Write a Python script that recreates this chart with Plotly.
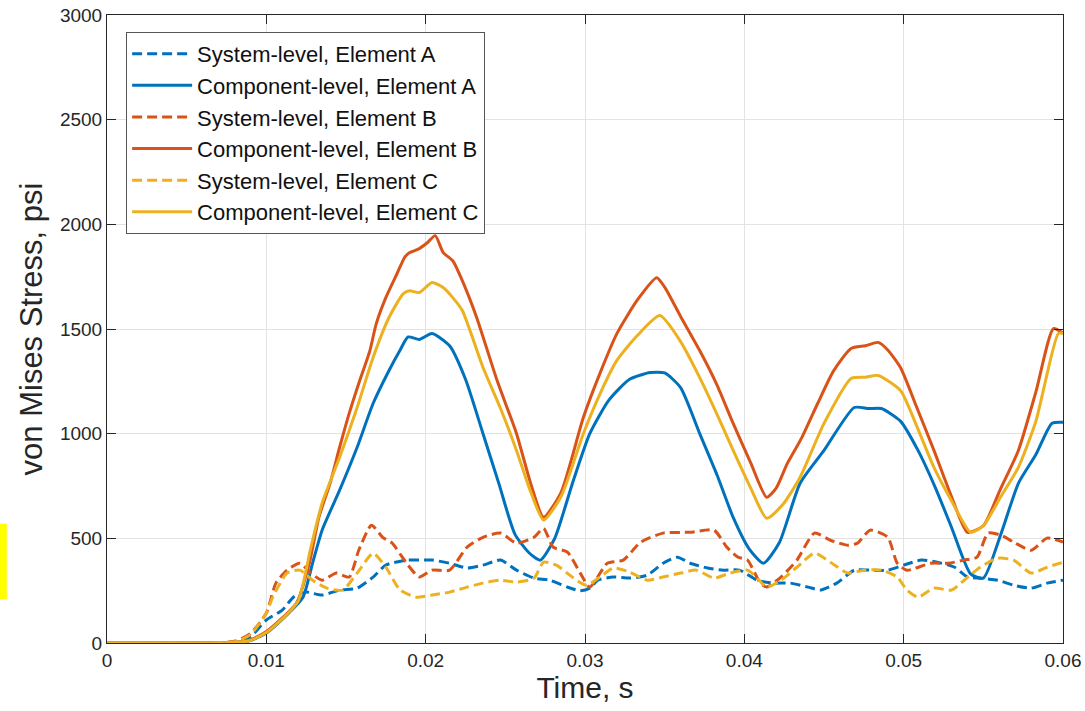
import plotly.graph_objects as go

# ---------------- data ----------------
t_comp_a = [0, 0.005, 0.008, 0.009, 0.010, 0.0114, 0.0123, 0.0129, 0.0135, 0.0146, 0.0157,
            0.0167, 0.0177, 0.0184, 0.0189, 0.0196, 0.0204, 0.0215, 0.0225, 0.0236, 0.0246,
            0.0256, 0.0265, 0.0272, 0.0281, 0.0292, 0.0303, 0.0315, 0.0328, 0.0341, 0.0350,
            0.0360, 0.0372, 0.0383, 0.0393, 0.0403, 0.0412, 0.0422, 0.0435, 0.0450, 0.0469,
            0.0478, 0.0486, 0.0498, 0.0509, 0.0520, 0.0530, 0.0542, 0.0550, 0.0561, 0.0572,
            0.0583, 0.0593, 0.0600]
v_comp_a = [0, 0, 2, 12, 48, 143, 219, 381, 539, 730, 935,
            1144, 1302, 1400, 1462, 1450, 1478, 1420, 1260, 1000, 760,
            520, 430, 396, 500, 760, 1000, 1160, 1260, 1292, 1290,
            1220, 1000, 800, 600, 450, 381, 480, 763, 920, 1125,
            1120, 1120, 1060, 920, 740, 553, 330, 310, 520, 763,
            900, 1049, 1054]

t_comp_b = [0, 0.005, 0.008, 0.009, 0.010, 0.011, 0.0119, 0.0127, 0.0133, 0.0140, 0.0146,
            0.0152, 0.0158, 0.0165, 0.0169, 0.0175, 0.0182, 0.0187, 0.0190, 0.0196, 0.0201,
            0.0206, 0.0211, 0.0217, 0.0223, 0.0232, 0.0245, 0.0257, 0.0266, 0.0274, 0.0285,
            0.0299, 0.0310, 0.0320, 0.0333, 0.0345, 0.0350, 0.0360, 0.0372, 0.0383, 0.0393,
            0.0404, 0.0414, 0.0420, 0.0427, 0.0436, 0.0446, 0.0456, 0.0467, 0.0476, 0.0484,
            0.0490, 0.0498, 0.0508, 0.0519, 0.0530, 0.0540, 0.0550, 0.0561, 0.0572, 0.0583,
            0.0594, 0.0600]
v_comp_b = [0, 0, 3, 15, 55, 120, 191, 381, 601, 763, 935,
            1097, 1240, 1397, 1526, 1650, 1764, 1845, 1865, 1884, 1912,
            1946, 1865, 1826, 1731, 1555, 1250, 1001, 760, 601, 720,
            1078, 1300, 1478, 1640, 1745, 1700, 1560, 1397, 1230, 1049,
            860, 696, 740, 858, 980, 1144, 1300, 1407, 1420, 1436,
            1400, 1316, 1130, 920, 700, 529, 560, 740, 920, 1200,
            1502, 1480]

t_comp_c = [0, 0.005, 0.008, 0.009, 0.010, 0.011, 0.0120, 0.0128, 0.0135, 0.0146, 0.0157,
            0.0167, 0.0177, 0.0186, 0.0190, 0.0196, 0.0204, 0.0211, 0.0217, 0.0223, 0.0236,
            0.0247, 0.0257, 0.0266, 0.0274, 0.0285, 0.0299, 0.0310, 0.0320, 0.0333, 0.0347,
            0.0360, 0.0372, 0.0383, 0.0393, 0.0404, 0.0414, 0.0424, 0.0435, 0.0450, 0.0467,
            0.0476, 0.0484, 0.0498, 0.0508, 0.0519, 0.0530, 0.0542, 0.0550, 0.0561, 0.0572,
            0.0583, 0.0597, 0.0600]
v_comp_c = [0, 0, 2, 12, 50, 115, 200, 458, 668, 887, 1125,
            1364, 1555, 1669, 1683, 1674, 1722, 1698, 1650, 1588, 1316,
            1120, 920, 720, 587, 700, 1001, 1200, 1350, 1470, 1564,
            1440, 1268, 1090, 920, 740, 596, 660, 792, 1049, 1264,
            1270, 1278, 1206, 1040, 839, 680, 529, 560, 700, 839,
            1060, 1478, 1480]

t_sys_a = [0, 0.005, 0.008, 0.009, 0.010, 0.011, 0.0117, 0.0125, 0.0135, 0.0146, 0.0157,
           0.0167, 0.0175, 0.0188, 0.0194, 0.0204, 0.0215, 0.0226, 0.0236, 0.0247, 0.0257,
           0.0268, 0.0278, 0.0289, 0.0297, 0.0303, 0.0308, 0.0318, 0.0328, 0.0339, 0.0349,
           0.0358, 0.0366, 0.0377, 0.0387, 0.0397, 0.0408, 0.0418, 0.0429, 0.0440, 0.0448,
           0.0458, 0.0469, 0.0479, 0.0490, 0.0500, 0.0511, 0.0521, 0.0532, 0.0540, 0.0548,
           0.0559, 0.0569, 0.0580, 0.0590, 0.0600]
v_sys_a = [0, 0, 5, 30, 110, 157, 219, 243, 229, 253, 262,
           315, 372, 396, 396, 396, 381, 358, 372, 396, 348,
           310, 300, 267, 250, 262, 300, 315, 310, 324, 381,
           410, 381, 358, 348, 348, 300, 286, 286, 267, 253,
           286, 348, 348, 348, 372, 396, 386, 362, 315, 310,
           300, 276, 262, 286, 300]

t_sys_b = [0, 0.005, 0.008, 0.009, 0.010, 0.0106, 0.0113, 0.0121, 0.0128, 0.0135, 0.0144,
           0.0152, 0.0158, 0.0166, 0.0173, 0.0179, 0.0188, 0.0196, 0.0204, 0.0215, 0.0226,
           0.0236, 0.0247, 0.0257, 0.0268, 0.0274, 0.0280, 0.0289, 0.0297, 0.0303, 0.0314,
           0.0324, 0.0335, 0.0349, 0.0366, 0.0381, 0.0389, 0.0396, 0.0402, 0.0410, 0.0414,
           0.0423, 0.0433, 0.0444, 0.0454, 0.0465, 0.0471, 0.0479, 0.0490, 0.0496, 0.0502,
           0.0517, 0.0528, 0.0538, 0.0546, 0.0553, 0.0561, 0.0569, 0.0580, 0.0590, 0.0600]
v_sys_b = [0, 0, 8, 45, 143, 286, 348, 381, 334, 300, 334,
           315, 443, 563, 505, 477, 381, 315, 348, 348, 458,
           505, 525, 477, 505, 548, 458, 434, 334, 267, 381,
           396, 482, 525, 529, 539, 458, 410, 396, 286, 267,
           315, 396, 525, 491, 467, 477, 539, 505, 381, 348,
           381, 381, 396, 410, 525, 515, 482, 443, 501, 482]

t_sys_c = [0, 0.005, 0.008, 0.009, 0.010, 0.0104, 0.0113, 0.0121, 0.0129, 0.0138, 0.0148,
           0.0157, 0.0167, 0.0175, 0.0184, 0.0194, 0.0204, 0.0215, 0.0226, 0.0236, 0.0247,
           0.0257, 0.0268, 0.0274, 0.0282, 0.0292, 0.0301, 0.0318, 0.0328, 0.0339, 0.0349,
           0.0360, 0.0370, 0.0381, 0.0391, 0.0402, 0.0408, 0.0414, 0.0423, 0.0433, 0.0444,
           0.0454, 0.0465, 0.0475, 0.0486, 0.0496, 0.0502, 0.0509, 0.0519, 0.0530, 0.0538,
           0.0548, 0.0559, 0.0569, 0.0580, 0.0590, 0.0600]
v_sys_c = [0, 0, 6, 40, 143, 219, 334, 348, 300, 262, 253,
           334, 429, 362, 253, 219, 229, 243, 267, 286, 300,
           291, 310, 386, 372, 315, 276, 358, 339, 300, 315,
           334, 348, 310, 334, 348, 310, 267, 300, 362, 429,
           386, 334, 348, 348, 315, 253, 219, 262, 253, 300,
           362, 405, 396, 334, 362, 386]

series_names = ["System-level, Element A", "Component-level, Element A",
                "System-level, Element B", "Component-level, Element B",
                "System-level, Element C", "Component-level, Element C"]

x_tick_vals = [0, 0.01, 0.02, 0.03, 0.04, 0.05, 0.06]
x_tick_text = ["0", "0.01", "0.02", "0.03", "0.04", "0.05", "0.06"]
y_tick_vals = [0, 500, 1000, 1500, 2000, 2500, 3000]

# ---------------- styling ----------------
BLUE = "#0072BD"
ORANGE = "#D95319"
YELLOW = "#EDB120"
FONT = "Liberation Sans, Arial, Helvetica, sans-serif"
TXT = "#262626"

traces = [
    (t_sys_a, v_sys_a, BLUE, "dash"),
    (t_comp_a, v_comp_a, BLUE, "solid"),
    (t_sys_b, v_sys_b, ORANGE, "dash"),
    (t_comp_b, v_comp_b, ORANGE, "solid"),
    (t_sys_c, v_sys_c, YELLOW, "dash"),
    (t_comp_c, v_comp_c, YELLOW, "solid"),
]

fig = go.Figure()
for i, (t, v, c, d) in enumerate(traces):
    fig.add_trace(go.Scatter(
        x=t, y=v, mode="lines", name=series_names[i],
        line=dict(color=c, width=3, dash=("10px,5px" if d == "dash" else "solid"),
                  shape="spline", smoothing=0.6),
    ))

axis_common = dict(
    showline=True, linecolor="#262626", linewidth=1, mirror="ticks",
    ticks="inside", ticklen=9, tickcolor="#262626", tickwidth=1,
    showgrid=True, gridcolor="#E3E3E3", gridwidth=1, zeroline=False,
    automargin=False,
    tickfont=dict(family=FONT, size=19, color=TXT),
)

fig.update_layout(
    width=1085, height=711,
    margin=dict(l=107, r=22, t=15, b=68),
    paper_bgcolor="white", plot_bgcolor="white",
    font=dict(family=FONT, color=TXT),
    xaxis=dict(range=[0, 0.06], tickvals=x_tick_vals, ticktext=x_tick_text,
               title=dict(text="Time, s", font=dict(family=FONT, size=30, color=TXT), standoff=4),
               **axis_common),
    yaxis=dict(range=[0, 3000], tickvals=y_tick_vals,
               title=dict(text="von Mises Stress, psi", font=dict(family=FONT, size=31, color=TXT), standoff=8),
               **axis_common),
    legend=dict(x=0.02, y=0.973, xanchor="left", yanchor="top",
                bgcolor="white", bordercolor="#555555", borderwidth=1,
                font=dict(family=FONT, size=22, color="#111111"),
                itemwidth=60),
    showlegend=True,
    shapes=[dict(type="rect", xref="paper", yref="paper",
                 x0=-0.1122, x1=-0.1048, y0=0.07, y1=0.19,
                 fillcolor="#FFFF00", line=dict(width=0))],
)

fig.write_html("out.html")
